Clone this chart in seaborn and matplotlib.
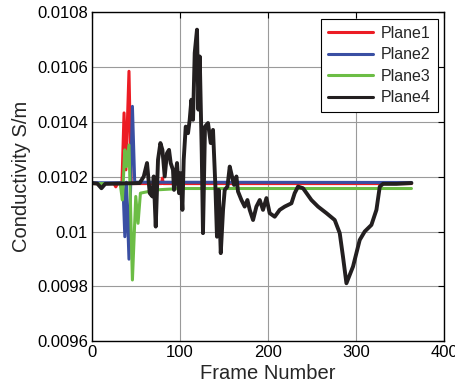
import numpy as np
import pandas as pd
import matplotlib
matplotlib.use("Agg")
import matplotlib.pyplot as plt
import seaborn as sns

# ---- data ----
p1_frame = [0, 25, 27, 29, 34, 36.4, 38.5, 42, 44.5, 79, 80, 81, 363]
p1_val = [0.010175, 0.010175, 0.010163, 0.010175, 0.010175, 0.010433, 0.010225,
          0.010585, 0.010175, 0.010175, 0.010195, 0.010175, 0.010175]

p2_frame = [0, 35, 37.3, 39, 42, 45.9, 48.5, 363]
p2_val = [0.010178, 0.010178, 0.009981, 0.010180, 0.009899, 0.010457, 0.010180, 0.010179]

p3_frame = [0, 32, 34.5, 37.2, 39.1, 42, 45.9, 49.7, 52.3, 55, 73.2, 100, 363]
p3_val = [0.010175, 0.010175, 0.010115, 0.010298, 0.010237, 0.010316, 0.009823,
          0.010128, 0.010030, 0.010140, 0.010152, 0.010157, 0.010157]

p4_frame = [0, 6, 10.7, 15, 54.2, 58.8, 62.5, 65.6, 68.6, 70.1, 72.4, 75, 77.7, 80,
            82.6, 85.2, 87.5, 89.4, 92, 93.2, 96.6, 98.9, 100.5, 102.7, 104.2,
            106.5, 109.1, 111, 112.9, 114.8, 116.7, 119.3, 120.9, 122.4, 124.7,
            126.1, 128.4, 131.8, 134.9, 137.5, 140.2, 142, 144, 146.3, 148.9,
            150.8, 153.9, 156.5, 159.1, 161.4, 164.1, 165.9, 169.8, 173.5, 176.6,
            179.2, 183, 186.8, 190.6, 194.3, 198.2, 201.9, 207.6, 213.3, 219,
            226.6, 230.3, 234.1, 239.8, 249.3, 256.8, 266.4, 275.8, 281.5, 285.2,
            289.1, 296.6, 304.2, 309.9, 317.5, 323.2, 327, 330.7, 345.9, 363]
p4_val = [0.010177, 0.010175, 0.010158, 0.010174, 0.010177, 0.010201, 0.010250,
          0.010140, 0.010128, 0.010201, 0.010018, 0.010262, 0.010323, 0.010298,
          0.010201, 0.010286, 0.010298, 0.010250, 0.010225, 0.010152, 0.010250,
          0.010140, 0.010213, 0.010079, 0.010262, 0.010383, 0.010359, 0.010408,
          0.010481, 0.010408, 0.010652, 0.010737, 0.010445, 0.010639, 0.010286,
          0.009994, 0.010383, 0.010396, 0.010323, 0.010371, 0.010164, 0.009981,
          0.010152, 0.009921, 0.010079, 0.010152, 0.010164, 0.010237, 0.010201,
          0.010170, 0.010201, 0.010146, 0.010115, 0.010091, 0.010115, 0.010079,
          0.010042, 0.010091, 0.010115, 0.010079, 0.010122, 0.010067, 0.010054,
          0.010079, 0.010091, 0.010103, 0.010140, 0.010164, 0.010158, 0.010115,
          0.010091, 0.010067, 0.010042, 0.009994, 0.009908, 0.009811, 0.009872,
          0.009969, 0.010000, 0.010024, 0.010079, 0.010164, 0.010174, 0.010174,
          0.010177]

series_names = ["Plane1", "Plane2", "Plane3", "Plane4"]
x_ticks = [0, 100, 200, 300, 400]
y_ticks = [0.0096, 0.0098, 0.0100, 0.0102, 0.0104, 0.0106, 0.0108]
y_tick_labels = ["0.0096", "0.0098", "0.01", "0.0102", "0.0104", "0.0106", "0.0108"]

# ---- build long table ----
frames = []
for name, fr, vl in zip(series_names, [p1_frame, p2_frame, p3_frame, p4_frame],
                        [p1_val, p2_val, p3_val, p4_val]):
    frames.append(pd.DataFrame({"frame": fr, "value": vl, "series": name}))
df = pd.concat(frames, ignore_index=True)

sns.set_style("white")
plt.rcParams["font.family"] = ["Liberation Sans", "DejaVu Sans"]

fig = plt.figure(figsize=(4.56, 3.88), dpi=100)
ax = fig.add_axes([0.2018, 0.121, 0.7719, 0.847])

palette = {"Plane1": "#ec1c24", "Plane2": "#3a4fa3", "Plane3": "#6cbd45", "Plane4": "#231f20"}
sizes = {"Plane1": 2.2, "Plane2": 2.2, "Plane3": 2.2, "Plane4": 2.8}

sns.lineplot(data=df, x="frame", y="value", hue="series", palette=palette,
             size="series", sizes=sizes, hue_order=series_names, size_order=series_names,
             estimator=None, sort=False, units="series", ax=ax, legend=True)

ax.set_xlim(0, 400)
ax.set_ylim(0.0096, 0.0108)
ax.set_xticks(x_ticks)
ax.set_xticklabels([str(t) for t in x_ticks])
ax.set_yticks(y_ticks)
ax.set_yticklabels(y_tick_labels)
ax.grid(True, color="#9a9a9a", linewidth=0.8, linestyle="-")
ax.set_axisbelow(True)
for s in ax.spines.values():
    s.set_color("black")
    s.set_linewidth(1.0)
ax.tick_params(direction="in", length=4, width=0.8, top=True, right=True,
               labelsize=12, colors="black", pad=3)
ax.set_xlabel("Frame Number", fontsize=14.5, labelpad=3)
ax.set_ylabel("Conductivity S/m", fontsize=14.5, labelpad=4)

handles, labels = ax.get_legend_handles_labels()
h2, l2 = [], []
for h, l in zip(handles, labels):
    if l in series_names and l not in l2:
        h.set_linewidth(2.2)
        h2.append(h)
        l2.append(l)
leg = ax.legend(h2, l2, loc="upper right", fontsize=11.5, frameon=True, fancybox=False,
                edgecolor="black", framealpha=1, borderaxespad=0.4,
                handlelength=2.8, handletextpad=0.5, labelspacing=0.4, borderpad=0.45)
leg.get_frame().set_linewidth(0.8)

fig.savefig("out.png", dpi=100)
